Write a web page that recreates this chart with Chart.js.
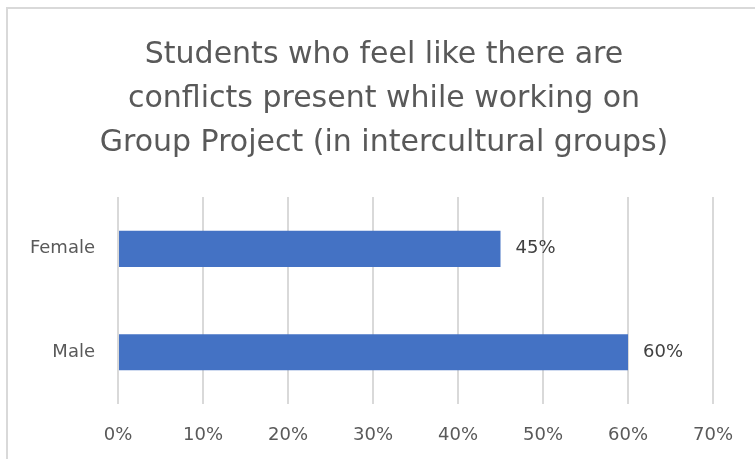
<!DOCTYPE html>
<html>
<head>
<meta charset="utf-8">
<script src="https://cdn.jsdelivr.net/npm/chart.js@4/dist/chart.umd.min.js"></script>
<style>
  html, body { margin: 0; padding: 0; background: #fff; overflow: hidden; }
  #frame {
    position: absolute; left: 6px; top: 7px; width: 800px; height: 500px;
    border: 2px solid #d9d9d9; box-sizing: border-box;
  }
  #wrap { position: absolute; left: 0; top: 0; width: 755px; height: 459px; }
</style>
</head>
<body>
<div id="frame"></div>
<div id="wrap"><canvas id="conflictChart"></canvas></div>
<script>
const chartTitle = [
  'Students who feel like there are',
  'conflicts present while working on',
  'Group Project (in intercultural groups)'
];
const genders = ['Female', 'Male'];
const conflictShare = [45, 60];
const tickValues = [0, 10, 20, 30, 40, 50, 60, 70];

const FONT = '"DejaVu Sans", "Open Sans", sans-serif';

// prints "45%" etc. just right of each bar
const valueLabels = {
  id: 'valueLabels',
  afterDatasetsDraw(chart) {
    const ctx = chart.ctx;
    const meta = chart.getDatasetMeta(0);
    ctx.save();
    ctx.font = '18px ' + FONT;
    ctx.fillStyle = '#404040';
    ctx.textAlign = 'left';
    ctx.textBaseline = 'middle';
    meta.data.forEach((bar, i) => {
      ctx.fillText(conflictShare[i] + '%', bar.x + 15, bar.y);
    });
    ctx.restore();
  }
};

// title block spans the whole canvas width, not just up to the right padding
const wideTitle = {
  id: 'wideTitle',
  afterLayout(chart) {
    const t = chart.titleBlock;
    if (t) { t.left = 13; t.right = chart.width; t.width = t.right - t.left; }
  }
};

const ctx = document.getElementById('conflictChart').getContext('2d');
const conflictChart = new Chart(ctx, {
  type: 'bar',
  data: {
    labels: genders,
    datasets: [{
      data: conflictShare,
      backgroundColor: '#4472c4',
      barPercentage: 0.7,
      categoryPercentage: 0.5
    }]
  },
  options: {
    indexAxis: 'y',
    responsive: true,
    maintainAspectRatio: false,
    animation: false,
    layout: { padding: { top: 0, right: 42, bottom: 0, left: 0 } },
    plugins: {
      legend: { display: false },
      tooltip: { enabled: false },
      title: {
        display: true,
        text: chartTitle,
        color: '#595959',
        font: { family: FONT, size: 30, weight: 'normal', lineHeight: 1.467 },
        padding: { top: 33, bottom: 32 }
      }
    },
    scales: {
      x: {
        min: 0,
        max: 70,
        afterBuildTicks: scale => { scale.ticks = tickValues.map(v => ({ value: v })); },
        afterFit: scale => { scale.height = 55; },
        grid: { color: '#d9d9d9', lineWidth: 2, drawTicks: false },
        border: { display: false },
        ticks: {
          padding: 21,
          color: '#595959',
          font: { family: FONT, size: 18 },
          callback: v => v + '%'
        }
      },
      y: {
        afterFit: scale => { scale.width = 118; },
        grid: { display: false, drawTicks: false },
        border: { display: false },
        ticks: {
          padding: 23,
          color: '#595959',
          font: { family: FONT, size: 18 }
        }
      }
    }
  },
  plugins: [valueLabels, wideTitle]
});
</script>
</body>
</html>
